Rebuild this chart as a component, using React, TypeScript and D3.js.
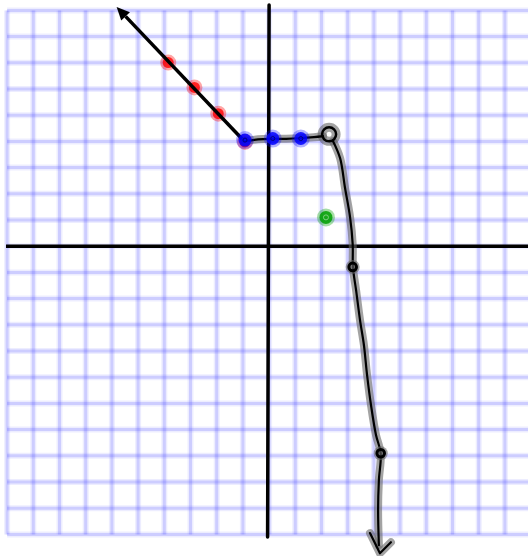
import React from "react";
import * as d3 from "d3";

// graph paper units: x -10..10, y 9..-11
const gridX = d3.range(-10, 11);
const gridY = d3.range(-11, 10);

// ray drawn through the red points, arrow at the top-left end
const rayStart = [-0.92, 3.98];
const rayEnd = [-5.82, 9.13];
const redPoints = [[-3.85, 7.01], [-2.85, 6.06], [-1.94, 5.06], [-0.92, 3.98]];
const bluePoints = [[-0.92, 4.05], [0.14, 4.11], [1.21, 4.11]];
const greenPoint = [2.17, 1.1];
const openPoint = [2.29, 4.27];
const blackPoints = [[3.19, -0.79], [4.26, -7.9]];

// hand drawn curve, split at the open circle
const curveTop = [[-0.92, 4.01], [-0.42, 4.08], [0.11, 4.1], [0.65, 4.1], [1.18, 4.12], [1.71, 4.16], [2.06, 4.2]];
const curveDown = [
  [2.44, 4.01], [2.71, 3.36], [2.9, 2.21], [3.09, 1.11], [3.19, 0.08], [3.2, -0.8],
  [3.32, -1.68], [3.47, -2.82], [3.62, -3.78], [3.74, -4.92], [3.89, -6.07],
  [4.08, -7.21], [4.26, -7.9], [4.19, -8.93], [4.16, -10.08], [4.19, -11.41],
];
const arrowDown = [[3.85, -10.95], [4.23, -11.72], [4.65, -11.3]];

export default function App() {
  const x = d3.scaleLinear().domain([-10, 10]).range([7.1, 531.1]);
  const y = d3.scaleLinear().domain([9, -11]).range([10.4, 534.4]);

  const line = d3.line<number[]>().x((d) => x(d[0])).y((d) => y(d[1])).curve(d3.curveCatmullRom);
  const straight = d3.line<number[]>().x((d) => x(d[0])).y((d) => y(d[1]));

  // arrow head of the ray
  const ax = x(rayEnd[0]), ay = y(rayEnd[1]);
  const ang = Math.atan2(ay - y(rayStart[1]), ax - x(rayStart[0]));
  const hl = 13, hw = 6;
  const bx = ax - hl * Math.cos(ang), by = ay - hl * Math.sin(ang);
  const head = `M${ax},${ay}L${bx + hw * Math.sin(ang)},${by - hw * Math.cos(ang)}L${bx - hw * Math.sin(ang)},${by + hw * Math.cos(ang)}Z`;

  const halo = { fill: "none", stroke: "#666", strokeOpacity: 0.6, strokeWidth: 8, strokeLinecap: "round" as const, strokeLinejoin: "round" as const };
  const ink = { fill: "none", stroke: "#000", strokeWidth: 2.2, strokeLinecap: "round" as const, strokeLinejoin: "round" as const };

  return (
    <svg width={528} height={556} style={{ position: "absolute", left: 0, top: 0, background: "#fff" }}>
      <g>
        {gridX.map((v) => (
          <g key={"gx" + v}>
            <line x1={x(v)} x2={x(v)} y1={y(9)} y2={y(-11)} stroke="#5050ff" strokeOpacity={0.1} strokeWidth={6} />
            <line x1={x(v)} x2={x(v)} y1={y(9)} y2={y(-11)} stroke="#5050ff" strokeOpacity={0.2} strokeWidth={3} />
          </g>
        ))}
        {gridY.map((v) => (
          <g key={"gy" + v}>
            <line x1={x(-10)} x2={528} y1={y(v)} y2={y(v)} stroke="#5050ff" strokeOpacity={0.1} strokeWidth={6} />
            <line x1={x(-10)} x2={528} y1={y(v)} y2={y(v)} stroke="#5050ff" strokeOpacity={0.2} strokeWidth={3} />
          </g>
        ))}
      </g>
      {/* axes */}
      <line x1={x(0)} x2={x(0) - 1.5} y1={5} y2={537} stroke="#000" strokeWidth={3.5} strokeLinecap="round" />
      <line x1={6} x2={528} y1={y(0)} y2={y(0)} stroke="#000" strokeWidth={3.5} />

      {/* red points under the ray */}
      {redPoints.map((d, i) => (
        <g key={"r" + i}>
          <circle cx={x(d[0])} cy={y(d[1])} r={8} fill="#ff0000" fillOpacity={0.35} />
          <circle cx={x(d[0])} cy={y(d[1])} r={5.5} fill="#ff0000" fillOpacity={0.8} />
        </g>
      ))}
      <path d={straight([rayStart, [bx, by].map((v, i) => (i === 0 ? x.invert(v) : y.invert(v)))]) || ""} stroke="#000" strokeWidth={3.5} fill="none" />
      <path d={head} fill="#000" />

      {/* curve */}
      <path d={line(curveTop) || ""} {...halo} />
      <path d={line(curveDown) || ""} {...halo} />
      <path d={straight(arrowDown) || ""} {...halo} />
      <circle cx={x(openPoint[0])} cy={y(openPoint[1])} r={7} {...halo} strokeWidth={9} />
      <path d={line(curveTop) || ""} {...ink} />
      <path d={line(curveDown) || ""} {...ink} />
      <path d={straight(arrowDown) || ""} {...ink} />
      <circle cx={x(openPoint[0])} cy={y(openPoint[1])} r={7} {...ink} strokeWidth={2.5} />

      {/* blue points */}
      {bluePoints.map((d, i) => (
        <g key={"b" + i}>
          <circle cx={x(d[0])} cy={y(d[1])} r={9} fill="#0000ff" fillOpacity={0.3} />
          <circle cx={x(d[0])} cy={y(d[1])} r={6.5} fill="#0000ff" fillOpacity={0.85} />
          <circle cx={x(d[0])} cy={y(d[1])} r={2} fill="none" stroke="#000080" strokeWidth={1} />
        </g>
      ))}

      {/* green point */}
      <circle cx={x(greenPoint[0])} cy={y(greenPoint[1])} r={9} fill="#00a000" fillOpacity={0.35} />
      <circle cx={x(greenPoint[0])} cy={y(greenPoint[1])} r={6.5} fill="#00a000" fillOpacity={0.85} />
      <circle cx={x(greenPoint[0])} cy={y(greenPoint[1])} r={2.5} fill="none" stroke="#7fd07f" strokeWidth={1} />

      {/* black points */}
      {blackPoints.map((d, i) => (
        <g key={"k" + i}>
          <circle cx={x(d[0])} cy={y(d[1])} r={7} fill="#666" fillOpacity={0.6} />
          <circle cx={x(d[0])} cy={y(d[1])} r={3.8} fill="none" stroke="#000" strokeWidth={3} />
        </g>
      ))}
    </svg>
  );
}
